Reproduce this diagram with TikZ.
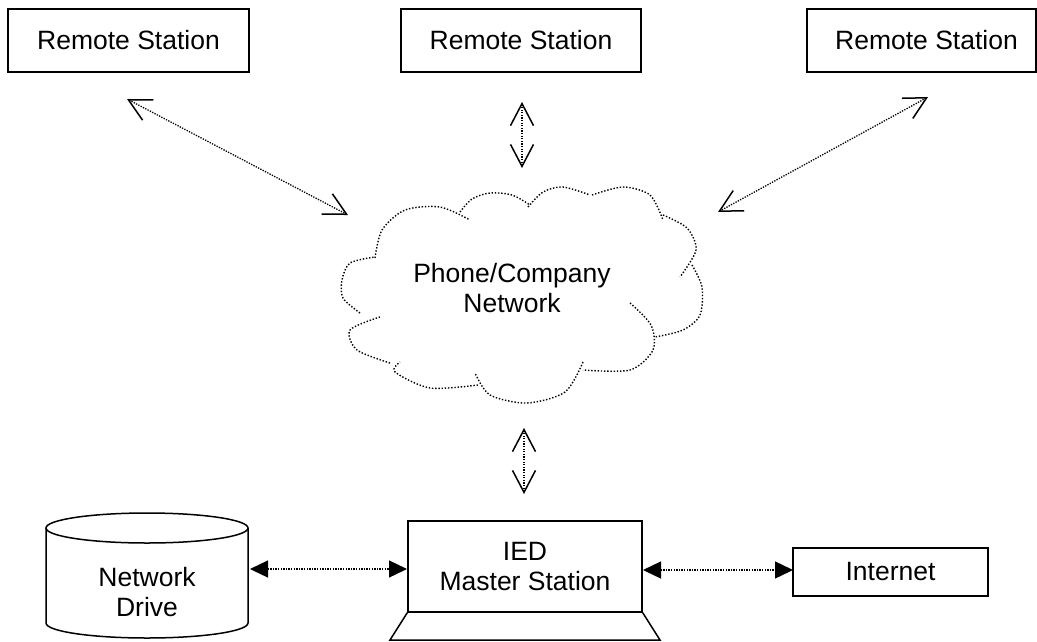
\documentclass[tikz,border=0pt]{standalone}
\usepackage{fontspec}
\setmainfont{Liberation Sans}
\usetikzlibrary{arrows.meta}
\tikzset{
  box/.style={draw, line width=1.5pt, inner sep=0pt, align=center},
  lbl/.style={inner sep=0pt, align=center},
  dotline/.style={line width=1.3pt, dash pattern=on 1.3pt off 1.3pt},
  openarr/.style={dotline, {Straight Barb[length=22pt,width=23pt,line width=1.5pt]}-{Straight Barb[length=22pt,width=23pt,line width=1.5pt]}},
  triarr/.style={dotline, {Triangle[length=18pt,width=17pt]}-{Triangle[length=18pt,width=17pt]}},
  cloudline/.style={line width=1.4pt, dash pattern=on 1.4pt off 1.8pt},
  solid1/.style={line width=1.5pt, line join=miter}
}
\begin{document}
\begin{tikzpicture}[x=1pt,y=-1pt,font=\fontsize{26.5}{30}\selectfont]
\useasboundingbox (0,0) rectangle (1037,641);

% remote stations
\node[box, minimum width=241, minimum height=63] (rs1) at (128.5,40.5) {Remote Station};
\node[box, minimum width=240, minimum height=63] (rs2) at (521,40.5) {Remote Station};
\node[box, minimum width=229, minimum height=63] (rs3) at (921.5,40.5) {\hspace*{10pt}Remote Station};

% cloud
\node[lbl] (cloud) at (512,288) {Phone/Company\\Network};
\begin{scope}[cloudline]
\draw plot[smooth] coordinates {(360,313) (343,298) (342,280) (350,263) (375,257)};
\draw plot[smooth] coordinates {(375,258) (382,230) (405,210) (440,207) (470,220)};
\draw plot[smooth] coordinates {(460,212) (472,199) (490,193) (512,195) (530,205)};
\draw plot[smooth] coordinates {(528,207) (543,192) (563,187) (590,195)};
\draw plot[smooth] coordinates {(592,195) (623,187) (650,195) (663,220)};
\draw plot[smooth] coordinates {(663,215) (687,228) (696,250) (680,277)};
\draw plot[smooth] coordinates {(692,265) (702,287) (700,315) (683,330) (655,337)};
\draw plot[smooth] coordinates {(630,303) (651,325) (653,350) (630,370) (583,370)};
\draw plot[smooth] coordinates {(583,362) (565,392) (527,403) (490,395) (475,373)};
\draw plot[smooth] coordinates {(478,385) (430,388) (395,372) (400,362)};
\draw plot[smooth] coordinates {(390,363) (357,350) (350,330) (380,317)};
\end{scope}

% IED master station (laptop)
\node[box, minimum width=234, minimum height=91] (ied) at (525,566.5) {IED\\Master Station};
\draw[solid1] (ied.south west) -- (390,640) -- (660,640) -- (ied.south east);

% network drive
\node[lbl] (drive) at (147,592) {Network\\Drive};
\draw[solid1] (46,528) -- (46,623) arc[start angle=180, end angle=0, x radius=101, y radius=15] -- (248,528);
\draw[solid1] (147,528) ellipse[x radius=101, y radius=15];

% internet
\node[box, minimum width=195, minimum height=48] (inet) at (890.5,572) {Internet};

% connector end points
\coordinate (a1s) at (127,99);  \coordinate (a1e) at (348,215);
\coordinate (a2s) at (522,102); \coordinate (a2e) at (522,168);
\coordinate (a3s) at (928,97);  \coordinate (a3e) at (718,212);
\coordinate (a4s) at (524,428); \coordinate (a4e) at (524,494);
\coordinate (a5s) at (250,569); \coordinate (a5e) at (407,569);
\coordinate (a6s) at (643,570); \coordinate (a6e) at (793,570);

\draw[openarr] (a1s) -- (a1e);
\draw[openarr] (a2s) -- (a2e);
\draw[openarr] (a3s) -- (a3e);
\draw[openarr] (a4s) -- (a4e);
\draw[triarr] (a5s) -- (a5e);
\draw[triarr] (a6s) -- (a6e);
\end{tikzpicture}
\end{document}
